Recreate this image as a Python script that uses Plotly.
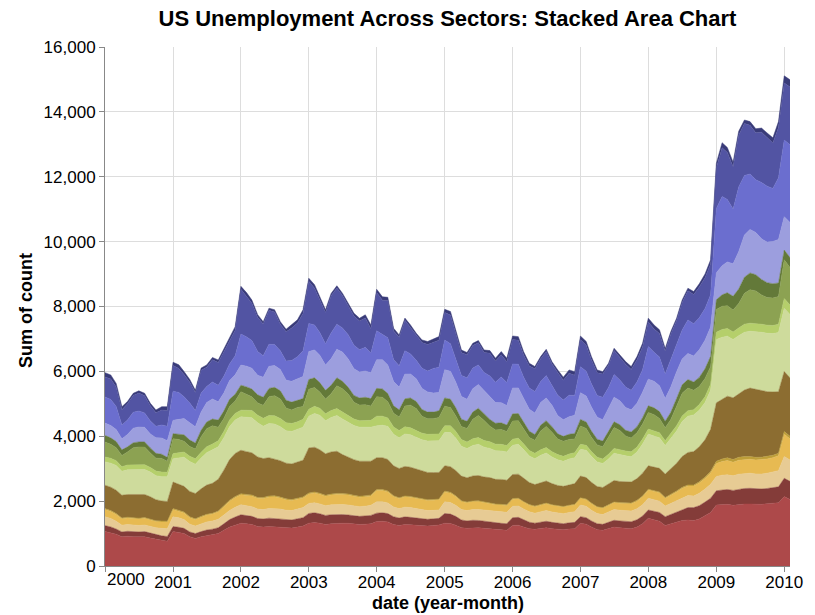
import pandas as pd
import plotly.graph_objects as go

# Monthly unemployed counts (thousands), Jan 2000 - Feb 2010
dates = pd.date_range("2000-01-01", periods=122, freq="MS")

agriculture = [
    130, 125, 110, 90, 72, 64, 70, 76, 74, 86, 102, 120,
    102, 112, 98, 84, 71, 66, 69, 74, 81, 88, 101, 114,
    92, 101, 99, 86, 69, 64, 71, 76, 79, 91, 99, 116,
    96, 108, 101, 84, 71, 66, 69, 74, 81, 89, 102, 114,
    101, 109, 99, 86, 69, 66, 71, 74, 79, 91, 99, 111,
    99, 111, 101, 84, 71, 64, 70, 76, 81, 89, 101, 109,
    111, 109, 101, 86, 69, 66, 70, 74, 79, 91, 99, 111,
    109, 116, 99, 84, 71, 65, 71, 74, 81, 89, 101, 114,
    116, 119, 111, 89, 76, 69, 76, 79, 91, 99, 116, 129,
    151, 159, 149, 141, 119, 111, 114, 121, 129, 141, 159, 181,
    220, 220,
]
business_services = [
    620, 630, 600, 470, 500, 520, 550, 530, 470, 420, 460, 480,
    790, 740, 680, 640, 560, 700, 600, 680, 700, 760, 720, 780,
    1380, 1260, 1150, 1050, 980, 1050, 1000, 820, 900, 1000, 1040, 1150,
    1300, 1130, 1000, 960, 1150, 1120, 1000, 900, 900, 880, 900, 750,
    1180, 1050, 1150, 880, 880, 940, 820, 760, 790, 820, 800, 830,
    850, 880, 760, 700, 710, 700, 680, 620, 700, 650, 680, 640,
    750, 740, 680, 680, 700, 700, 740, 660, 700, 610, 680, 620,
    836, 800, 740, 700, 720, 680, 740, 700, 700, 640, 680, 700,
    760, 720, 730, 700, 800, 780, 850, 900, 900, 950, 950, 950,
    1250, 1500, 1450, 1300, 1600, 1600, 1500, 1450, 1550, 1500, 1400, 1550,
    1760, 1780,
]
construction = [
    805, 805, 712, 430, 445, 490, 495, 445, 400, 350, 405, 450,
    900, 830, 675, 612, 495, 590, 490, 525, 510, 515, 510, 590,
    955, 900, 855, 735, 660, 680, 651, 575, 590, 645, 670, 795,
    865, 770, 705, 660, 790, 770, 745, 745, 730, 690, 730, 605,
    893, 780, 840, 677, 660, 720, 620, 570, 625, 645, 755, 781,
    913, 852, 745, 648, 660, 635, 605, 560, 660, 625, 795, 710,
    740, 730, 660, 650, 665, 650, 690, 610, 630, 609, 665, 615,
    802, 765, 715, 670, 690, 645, 695, 640, 635, 605, 660, 696,
    1004, 895, 880, 755, 830, 805, 890, 1035, 995, 985, 975, 995,
    1979, 2131, 1926, 1694, 1991, 1834, 1711, 1629, 1736, 1724, 1636, 1904,
    2360, 2400,
]
education_health = [
    380, 380, 370, 340, 380, 450, 460, 450, 430, 480, 500, 510,
    410, 450, 500, 530, 500, 560, 600, 620, 560, 560, 580, 600,
    620, 640, 640, 600, 620, 680, 670, 660, 620, 640, 660, 680,
    860, 860, 840, 780, 820, 880, 900, 873, 820, 800, 810, 800,
    880, 900, 880, 750, 700, 760, 740, 700, 650, 620, 590, 565,
    870, 860, 790, 700, 680, 720, 730, 700, 680, 640, 620, 600,
    800, 790, 730, 680, 660, 700, 700, 660, 560, 514, 540, 560,
    822, 800, 740, 680, 660, 700, 760, 740, 700, 680, 720, 780,
    822, 820, 800, 700, 780, 820, 800, 800, 800, 850, 880, 900,
    830, 900, 950, 1000, 1150, 1300, 1340, 1300, 1250, 1250, 1300, 1340,
    1030, 1080,
]
finance = [
    205, 200, 190, 170, 160, 155, 155, 160, 160, 150, 130, 120,
    155, 170, 200, 200, 190, 200, 205, 210, 220, 230, 220, 210,
    205, 220, 240, 250, 250, 255, 257, 250, 240, 240, 235, 240,
    300, 300, 290, 270, 260, 250, 230, 205, 210, 220, 230, 230,
    257, 260, 250, 230, 220, 225, 220, 215, 210, 205, 205, 205,
    257, 260, 250, 230, 220, 225, 225, 215, 210, 205, 205, 200,
    220, 220, 210, 190, 180, 180, 180, 170, 160, 154, 160, 170,
    205, 200, 190, 175, 170, 175, 180, 180, 180, 185, 190, 200,
    205, 210, 210, 200, 220, 240, 260, 265, 257, 280, 300, 320,
    300, 350, 400, 420, 450, 500, 520, 500, 480, 460, 440, 420,
    300, 310,
]
government = [
    460, 430, 400, 350, 400, 520, 540, 540, 440, 400, 420, 340,
    460, 420, 330, 300, 300, 480, 560, 560, 420, 400, 420, 380,
    565, 500, 420, 380, 400, 580, 620, 600, 450, 420, 440, 400,
    620, 580, 500, 450, 520, 700, 720, 668, 520, 480, 480, 440,
    600, 580, 500, 420, 420, 640, 700, 680, 520, 480, 480, 510,
    600, 560, 480, 400, 420, 600, 680, 620, 480, 440, 460, 430,
    560, 540, 460, 400, 400, 580, 650, 600, 480, 463, 450, 420,
    565, 520, 440, 380, 380, 540, 640, 600, 460, 430, 440, 460,
    514, 500, 440, 400, 430, 600, 700, 700, 600, 560, 560, 540,
    700, 720, 700, 680, 750, 950, 1030, 1000, 900, 850, 850, 850,
    1195, 1150,
]
information = [
    150, 150, 150, 140, 150, 155, 155, 150, 145, 140, 140, 140,
    155, 155, 160, 165, 170, 175, 180, 180, 185, 190, 200, 205,
    205, 215, 225, 235, 240, 250, 257, 255, 250, 245, 240, 240,
    210, 220, 220, 215, 215, 215, 210, 205, 200, 200, 205, 210,
    300, 280, 260, 230, 220, 220, 215, 210, 205, 205, 205, 205,
    205, 210, 210, 205, 200, 205, 210, 205, 205, 205, 205, 200,
    190, 190, 180, 170, 165, 170, 170, 165, 160, 154, 155, 155,
    154, 155, 150, 145, 140, 145, 150, 150, 150, 150, 150, 154,
    154, 160, 160, 150, 155, 160, 170, 165, 160, 170, 180, 190,
    230, 240, 240, 230, 240, 250, 250, 250, 250, 250, 250, 260,
    300, 300,
]
leisure_hospitality = [
    720, 740, 760, 740, 760, 770, 780, 770, 760, 740, 750, 760,
    720, 800, 900, 920, 900, 950, 1000, 1030, 1000, 1000, 1020, 1030,
    1030, 1060, 1080, 1050, 1000, 1050, 1080, 1050, 1000, 1000, 1000, 1020,
    980, 1040, 1060, 1020, 1060, 1100, 1100, 1080, 1050, 1050, 1060, 1050,
    980, 1000, 1020, 970, 950, 1000, 1000, 980, 970, 970, 975, 980,
    1030, 1050, 1000, 920, 900, 940, 960, 920, 900, 880, 875, 870,
    900, 920, 880, 820, 800, 840, 860, 820, 790, 771, 790, 800,
    822, 840, 800, 760, 740, 780, 840, 820, 800, 780, 820, 900,
    977, 960, 940, 880, 950, 1000, 1080, 1120, 1130, 1130, 1150, 1200,
    1950, 1900, 1850, 1800, 1800, 1780, 1750, 1780, 1800, 1800, 1800, 1820,
    1950, 1950,
]
manufacturing = [
    720, 720, 720, 700, 700, 720, 720, 710, 690, 650, 620, 610,
    820, 800, 790, 780, 780, 850, 900, 925, 980, 1100, 1250, 1330,
    1340, 1320, 1300, 1250, 1200, 1180, 1130, 1120, 1100, 1100, 1120, 1130,
    1390, 1380, 1340, 1280, 1300, 1300, 1200, 1130, 1100, 1080, 1060, 1040,
    980, 980, 970, 920, 900, 910, 900, 880, 860, 840, 830, 820,
    780, 790, 780, 760, 750, 770, 780, 770, 770, 760, 770, 760,
    740, 740, 720, 680, 660, 670, 680, 650, 630, 617, 630, 640,
    668, 660, 640, 620, 620, 640, 660, 650, 650, 650, 670, 700,
    720, 720, 730, 720, 780, 850, 950, 1000, 1030, 1080, 1150, 1300,
    1800, 1850, 1900, 1900, 1950, 2050, 2110, 2100, 2050, 2000, 1950, 1900,
    1850, 1800,
]
mining_extraction = [
    30, 30, 28, 25, 25, 25, 25, 25, 25, 25, 25, 25,
    30, 30, 30, 28, 25, 25, 25, 25, 25, 25, 30, 30,
    29, 31, 30, 28, 32, 30, 29, 31, 30, 28, 30, 31,
    30, 32, 29, 30, 31, 28, 30, 31, 29, 30, 32, 30,
    30, 30, 30, 28, 25, 26, 24, 25, 25, 24, 25, 26,
    30, 28, 25, 22, 20, 21, 20, 19, 20, 21, 20, 20,
    20, 21, 20, 19, 20, 21, 20, 20, 19, 20, 21, 20,
    20, 20, 21, 19, 20, 20, 21, 20, 20, 19, 25, 25,
    25, 25, 25, 25, 25, 30, 30, 30, 30, 35, 40, 45,
    70, 80, 85, 85, 90, 90, 85, 80, 80, 75, 75, 75,
    80, 80,
]
other = [
    225, 215, 210, 195, 200, 200, 200, 205, 200, 190, 200, 205,
    225, 210, 205, 200, 200, 205, 210, 215, 230, 260, 290, 300,
    310, 320, 330, 330, 340, 355, 360, 340, 320, 310, 300, 300,
    290, 300, 300, 290, 300, 310, 310, 308, 300, 290, 290, 290,
    350, 350, 340, 320, 310, 320, 320, 315, 310, 310, 310, 310,
    300, 290, 270, 250, 240, 245, 245, 230, 220, 210, 205, 210,
    220, 220, 210, 205, 200, 205, 210, 205, 205, 205, 205, 205,
    205, 205, 200, 195, 195, 205, 215, 215, 220, 225, 235, 245,
    257, 260, 255, 240, 250, 265, 285, 300, 308, 320, 330, 350,
    400, 420, 440, 420, 430, 430, 430, 430, 440, 440, 450, 460,
    690, 650,
]
self_employed = [
    270, 260, 240, 210, 210, 200, 200, 205, 210, 220, 230, 240,
    300, 290, 270, 240, 230, 240, 250, 250, 260, 270, 280, 300,
    310, 300, 300, 290, 290, 300, 308, 300, 290, 290, 300, 310,
    310, 310, 305, 300, 305, 310, 310, 308, 300, 300, 300, 310,
    350, 340, 330, 300, 290, 300, 300, 290, 280, 270, 260, 260,
    360, 355, 340, 320, 320, 330, 340, 345, 350, 350, 360, 350,
    350, 350, 340, 320, 310, 320, 330, 320, 310, 308, 320, 330,
    360, 350, 330, 310, 300, 310, 330, 330, 330, 330, 340, 350,
    360, 360, 350, 330, 340, 350, 360, 370, 360, 380, 400, 430,
    440, 450, 450, 450, 460, 465, 465, 460, 460, 470, 480, 500,
    670, 660,
]
transportation_utilities = [
    185, 175, 160, 150, 150, 155, 160, 160, 150, 140, 150, 150,
    155, 155, 160, 150, 150, 160, 170, 175, 180, 200, 230, 250,
    260, 255, 250, 245, 250, 255, 257, 255, 250, 250, 255, 260,
    300, 300, 290, 280, 280, 270, 265, 257, 250, 250, 255, 260,
    260, 260, 255, 240, 230, 235, 230, 225, 215, 210, 205, 205,
    300, 290, 270, 240, 230, 230, 225, 220, 215, 210, 205, 205,
    240, 240, 220, 200, 190, 195, 200, 195, 190, 185, 190, 195,
    205, 200, 190, 185, 185, 195, 210, 210, 215, 215, 225, 240,
    257, 260, 270, 270, 290, 320, 350, 380, 400, 410, 420, 440,
    440, 450, 460, 460, 470, 480, 485, 480, 475, 470, 480, 490,
    565, 560,
]
wholesale_retail = [
    1060, 1030, 980, 900, 920, 900, 890, 900, 860, 820, 780, 760,
    1060, 1040, 1000, 900, 850, 900, 940, 960, 1000, 1100, 1200, 1260,
    1320, 1300, 1280, 1220, 1200, 1220, 1210, 1200, 1180, 1170, 1200, 1230,
    1320, 1340, 1320, 1280, 1300, 1320, 1320, 1316, 1300, 1280, 1290, 1300,
    1370, 1380, 1360, 1280, 1250, 1280, 1270, 1250, 1230, 1230, 1250, 1264,
    1320, 1310, 1260, 1180, 1160, 1180, 1180, 1160, 1150, 1120, 1110, 1100,
    1250, 1260, 1200, 1150, 1130, 1160, 1180, 1150, 1130, 1120, 1140, 1150,
    1316, 1290, 1200, 1120, 1100, 1150, 1200, 1180, 1160, 1150, 1200, 1300,
    1470, 1420, 1380, 1250, 1300, 1350, 1400, 1420, 1400, 1450, 1550, 1650,
    1880, 1900, 1900, 1870, 1900, 1910, 1910, 1900, 1900, 1920, 1930, 1950,
    2140, 2050,
]

# Stacked bottom-to-top, category20b palette
sectors = [
    ("Wholesale and Retail Trade", wholesale_retail, "#ad494a"),
    ("Transportation and Utilities", transportation_utilities, "#843c39"),
    ("Self-employed", self_employed, "#e7cb94"),
    ("Other", other, "#e7ba52"),
    ("Mining and Extraction", mining_extraction, "#bd9e39"),
    ("Manufacturing", manufacturing, "#8c6d31"),
    ("Leisure and hospitality", leisure_hospitality, "#cedb9c"),
    ("Information", information, "#b5cf6b"),
    ("Government", government, "#8ca252"),
    ("Finance", finance, "#637939"),
    ("Education and Health", education_health, "#9c9ede"),
    ("Construction", construction, "#6b6ecf"),
    ("Business services", business_services, "#5254a3"),
    ("Agriculture", agriculture, "#393b79"),
]

year_ticks = pd.date_range("2000-01-01", "2010-01-01", freq="YS")
year_labels = [str(d.year) for d in year_ticks]

fig = go.Figure()
for name, values, color in sectors:
    assert len(values) == len(dates), name
    fig.add_trace(go.Scatter(
        x=dates, y=values, name=name, mode="lines",
        stackgroup="one", line=dict(width=0.5, color=color),
        fillcolor=color,
    ))

font_family = "Liberation Sans, Arial, Helvetica, sans-serif"

# First year label sits flush with the axis start instead of centred on it
axis_labels = [""] + year_labels[1:]

fig.update_layout(
    width=815, height=615,
    margin=dict(l=105, r=16, t=47, b=49),
    paper_bgcolor="white", plot_bgcolor="white",
    showlegend=False,
    font=dict(family=font_family, size=17, color="#000"),
    title=dict(
        text="<b>US Unemployment Across Sectors: Stacked Area Chart</b>",
        x=0.5, xref="paper", xanchor="center",
        y=1 - 18 / 615, yref="container", yanchor="middle",
        font=dict(size=22, color="#000"),
    ),
    xaxis=dict(
        range=[dates[0], dates[-1]],
        tickvals=year_ticks, ticktext=axis_labels,
        showgrid=True, gridcolor="#dddddd", gridwidth=1,
        showline=True, linecolor="#888888", linewidth=1,
        ticks="outside", ticklen=5, tickcolor="#888888",
        ticklabelstandoff=-4,
        tickfont=dict(size=17), zeroline=False,
    ),
    yaxis=dict(
        range=[0, 16000], tick0=0, dtick=2000, tickformat=",",
        showgrid=True, gridcolor="#dddddd", gridwidth=1,
        showline=True, linecolor="#888888", linewidth=1,
        ticks="outside", ticklen=5, tickcolor="#888888",
        tickfont=dict(size=17), zeroline=False,
    ),
    annotations=[
        dict(text=year_labels[0], xref="x", yref="paper",
             x=year_ticks[0], y=(566 - 579) / 519, xanchor="left",
             yanchor="middle", showarrow=False, font=dict(size=17)),
        dict(text="<b>date (year-month)</b>", xref="paper", yref="paper",
             x=0.5, y=(566 - 603) / 519, xanchor="center", yanchor="middle",
             showarrow=False, font=dict(size=18)),
        dict(text="<b>Sum of count</b>", xref="paper", yref="paper",
             x=(25 - 105) / 694, y=(566 - 311) / 519, xanchor="center",
             yanchor="middle", textangle=-90, showarrow=False,
             font=dict(size=18)),
    ],
)

fig.write_html("out.html")
